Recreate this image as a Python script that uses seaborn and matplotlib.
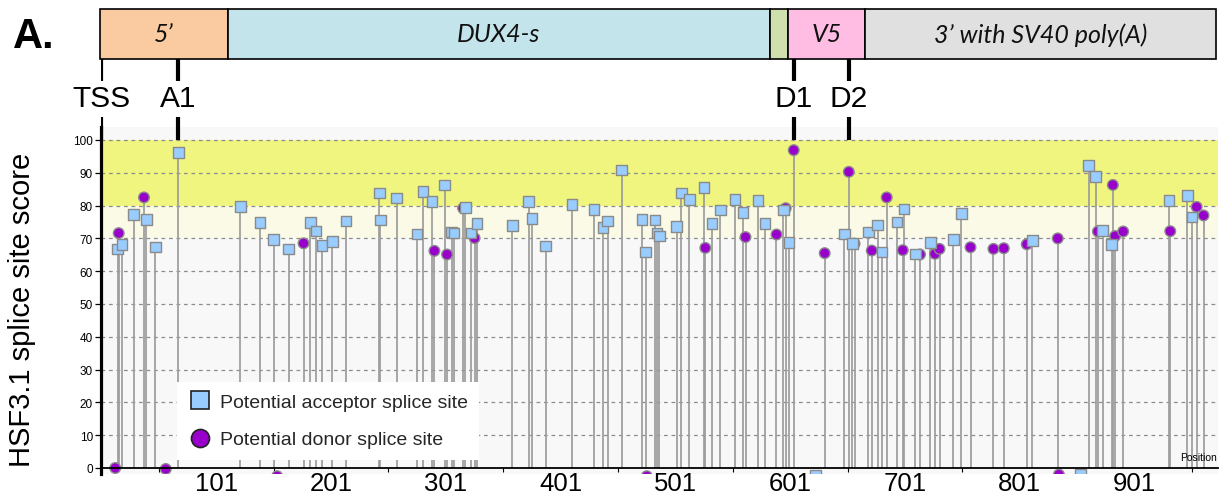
import matplotlib
matplotlib.use("Agg")
import matplotlib.pyplot as plt
import numpy as np
import pandas as pd
import seaborn as sns
from matplotlib.patches import Rectangle
from matplotlib.lines import Line2D

# ---------------- data ----------------
acc_pos = [15, 19, 29, 40, 48, 68,
           122, 139, 151, 164, 183, 188, 193, 202, 214,
           243, 244, 258, 276, 281, 289, 300, 306, 308, 318, 323, 328,
           359, 373, 376, 388, 411, 430, 438, 442, 454,
           472, 475, 483, 485, 487, 502, 506, 513, 526, 533, 540, 553, 560, 573, 579, 595, 600,
           623,
           648, 655, 669, 677, 681, 694, 700, 710, 723, 743, 750, 812,
           854, 861, 867, 873, 881, 931, 947, 951]
acc_score = [66.8, 68.1, 77.3, 75.8, 67.4, 96.2,
             79.7, 74.9, 69.7, 66.8, 74.9, 72.3, 67.9, 69.1, 75.3,
             83.8, 75.6, 82.3, 71.4, 84.3, 81.2, 86.3, 71.9, 71.6, 79.5, 71.7, 74.6,
             74.0, 81.2, 76.0, 67.7, 80.3, 78.8, 73.3, 75.3, 90.9,
             75.8, 65.8, 75.6, 71.7, 70.7, 73.7, 83.8, 81.8, 85.6, 74.5, 78.7, 81.9, 77.9, 81.6, 74.6, 78.7, 68.8,
             -2.3,
             71.3, 68.4, 71.9, 74.1, 65.8, 75.0, 79.0, 65.3, 68.8, 69.7, 77.6, 69.3,
             -2.0, 92.2, 88.8, 72.4, 68.2, 81.6, 83.1, 76.5]

don_pos = [13, 16, 38, 57, 154, 177, 291, 302, 316, 326, 476,
           527, 562, 589, 597, 604, 631, 652, 657, 672, 685, 699,
           714, 727, 731, 758, 778, 787, 807, 834, 835, 869, 882, 884, 891,
           932, 955, 961]
don_score = [0.0, 71.6, 82.5, -0.3, -2.5, 68.5, 66.2, 65.1, 79.2, 70.1, -2.5,
             67.1, 70.4, 71.2, 79.2, 96.9, 65.5, 90.3, 68.4, 66.3, 82.5, 66.4,
             65.1, 65.3, 66.8, 67.3, 66.8, 67.0, 68.2, 70.0, -2.0, 72.1, 86.3, 70.7, 72.1,
             72.2, 79.6, 77.0]

seg_labels = ["5\u2019", "DUX4-s", "", "V5", "3\u2019 with SV40 poly(A)"]
seg_start = [0, 111, 583, 599, 666]
seg_end = [111, 583, 599, 666, 972]
seg_colors = ["#FACBA1", "#C4E4EC", "#CFDFAD", "#FFBDE3", "#E0E0E0"]

site_labels = ["TSS", "A1", "D1", "D2"]
site_pos = [1, 68, 604, 652]

xtick_vals = [101, 201, 301, 401, 501, 601, 701, 801, 901]
xminor_vals = [51, 151, 251, 351, 451, 551, 651, 751, 851, 951]
ytick_vals = [0, 10, 20, 30, 40, 50, 60, 70, 80, 90, 100]

type_names = ["Potential donor splice site", "Potential acceptor splice site"]

# ---------------- style ----------------
sns.set_theme(style="white")
plt.rcParams["font.family"] = ["Liberation Sans", "DejaVu Sans"]

W, H = 1220, 502
fig = plt.figure(figsize=(W / 100, H / 100), dpi=100)
fig.patch.set_facecolor("white")


def fx(px):
    return px / W


def fy(py):
    return 1 - py / H


AX_L, AX_R, AX_T, AX_B = 100.5, 1218.0, 128.0, 475.0
XMIN, XMAX = 0.13, 973.6
YMIN, YMAX = -1.83, 103.96

ax = fig.add_axes([fx(AX_L), fy(AX_B), (AX_R - AX_L) / W, (AX_B - AX_T) / H])
ax.set_facecolor("#F8F8F8")
ax.set_xlim(XMIN, XMAX)
ax.set_ylim(YMIN, YMAX)

# background bands
ax.axhspan(80, 100, color="#F0F580", zorder=0.2, lw=0)
ax.axhspan(70, 80, color="#FAFAE6", zorder=0.2, lw=0)

# dashed grid
for yv in ytick_vals[1:]:
    ax.axhline(yv, color="#8c8c8c", lw=0.9, ls=(0, (3, 3)), zorder=0.5)

# data frame
df = pd.DataFrame({
    "pos": don_pos + acc_pos,
    "score": don_score + acc_score,
    "type": [type_names[0]] * len(don_pos) + [type_names[1]] * len(acc_pos),
})

# stems
pos_stem = df[df["score"] > 0]
ax.vlines(pos_stem["pos"], 0, pos_stem["score"], color="#9c9c9c", lw=1.25, zorder=2)

# markers (donors first, acceptors on top)
sns.scatterplot(data=df, x="pos", y="score", hue="type", style="type",
                markers={type_names[0]: "o", type_names[1]: "s"},
                palette={type_names[0]: "#9900CC", type_names[1]: "#99CCFF"},
                s=58, edgecolor="#8a8a8a", linewidth=1.0, legend=False,
                ax=ax, zorder=3)
ax.set_xlabel("")
ax.set_ylabel("")

# spines
for side in ["top", "right"]:
    ax.spines[side].set_visible(False)
ax.spines["left"].set_color("black")
ax.spines["left"].set_linewidth(2.3)
ax.spines["bottom"].set_color("black")
ax.spines["bottom"].set_linewidth(1.3)
ax.spines["bottom"].set_position(("data", 0))
ax.spines["bottom"].set_zorder(4)

# ticks
ax.set_xticks(xtick_vals)
ax.set_xticklabels([str(v) for v in xtick_vals], fontsize=18.5)
ax.set_xticks(xminor_vals, minor=True)
ax.tick_params(axis="x", which="major", length=0, pad=2.5, colors="black")
ax.tick_params(axis="x", which="minor", length=3, width=0.8, direction="out", color="black", bottom=True)
ax.set_yticks(ytick_vals)
ax.set_yticklabels([str(v) for v in ytick_vals], fontsize=8.5)
ax.tick_params(axis="y", which="major", length=4, width=0.9, pad=1.5, colors="black", left=True)

ax.text(0.999, (AX_B - 458) / (AX_B - AX_T), "Position", transform=ax.transAxes,
        ha="right", va="center", fontsize=7.5, color="black", zorder=6)

# legend
handles = [
    Line2D([], [], marker="s", ls="", markersize=12.5, markerfacecolor="#99CCFF",
           markeredgecolor="#222222", markeredgewidth=1.2, label=type_names[1]),
    Line2D([], [], marker="o", ls="", markersize=13, markerfacecolor="#9900CC",
           markeredgecolor="#222222", markeredgewidth=1.2, label=type_names[0]),
]
leg = ax.legend(handles=handles, loc="upper left",
                bbox_to_anchor=((177 - AX_L) / (AX_R - AX_L), (AX_B - 383) / (AX_B - AX_T)),
                bbox_transform=ax.transAxes, frameon=True, fancybox=False,
                framealpha=1, facecolor="white", edgecolor="none", fontsize=14,
                borderpad=0.6, labelspacing=1.0, handlelength=1.2,
                handletextpad=0.4, borderaxespad=0)
leg.set_zorder(5)

# ---------------- top construct diagram ----------------
axd = fig.add_axes([fx(AX_L), fy(141), (AX_R - AX_L) / W, 141 / H])
axd.set_xlim(XMIN, XMAX)
axd.set_ylim(141, 0)
axd.axis("off")

for lab, s, e, c in zip(seg_labels, seg_start, seg_end, seg_colors):
    axd.add_patch(Rectangle((s, 10), e - s, 50, facecolor=c, edgecolor="black",
                            lw=1.2, clip_on=False))
    if lab:
        axd.text((s + e) / 2, 35, lab, ha="center", va="center", fontsize=18,
                 fontstyle="italic", family=["Lato", "DejaVu Sans"], color="#111111")

axd.vlines(site_pos, 60, 82, color="black", lw=3)
axd.vlines(site_pos, 118, 141, color="black", lw=3)
for lab, p in zip(site_labels, site_pos):
    axd.text(p, 99, lab, ha="center", va="center", fontsize=21.5, color="black")

# ---------------- figure texts ----------------
fig.text(fx(22), fy(310), "HSF3.1 splice site score", rotation=90,
         ha="center", va="center", fontsize=21, color="black")
fig.text(fx(13), fy(37), "A.", ha="left", va="center", fontsize=30,
         fontweight="bold", color="black")

fig.savefig("out.png", dpi=100, facecolor="white")
